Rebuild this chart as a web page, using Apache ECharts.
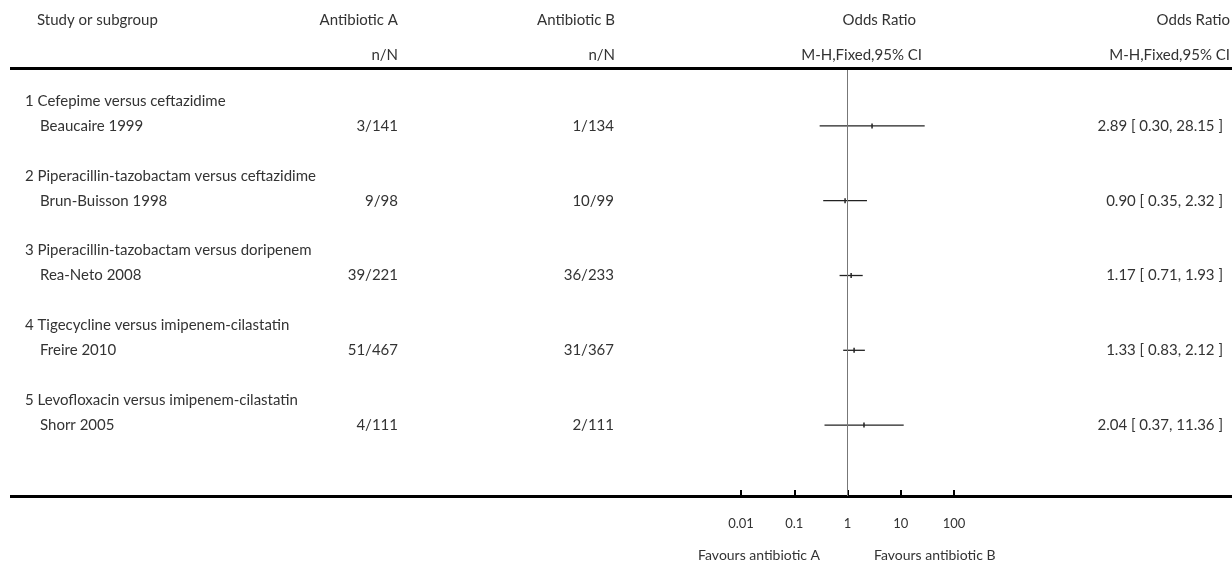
<!DOCTYPE html>
<html>
<head>
<meta charset="utf-8">
<script src="https://cdn.jsdelivr.net/npm/echarts@6/dist/echarts.min.js"></script>
<style>
  html, body { margin: 0; padding: 0; background: #fff; }
  #chart { width: 1232px; height: 562px; }
</style>
</head>
<body>
<div id="chart"></div>
<script>
// Forest plot: odds ratios (M-H, fixed, 95% CI) by comparison subgroup
const groups = [
  '1 Cefepime versus ceftazidime',
  '2 Piperacillin-tazobactam versus ceftazidime',
  '3 Piperacillin-tazobactam versus doripenem',
  '4 Tigecycline versus imipenem-cilastatin',
  '5 Levofloxacin versus imipenem-cilastatin'
];
const studies = ['Beaucaire 1999', 'Brun-Buisson 1998', 'Rea-Neto 2008', 'Freire 2010', 'Shorr 2005'];
const eventsA = [3, 9, 39, 51, 4];
const totalA = [141, 98, 221, 467, 111];
const eventsB = [1, 10, 36, 31, 2];
const totalB = [134, 99, 233, 367, 111];
const oddsRatio = [2.89, 0.90, 1.17, 1.33, 2.04];
const ciLow = [0.30, 0.35, 0.71, 0.83, 0.37];
const ciHigh = [28.15, 2.32, 1.93, 2.12, 11.36];
const axisTicks = [0.01, 0.1, 1, 10, 100];
const favourLabels = ['Favours antibiotic A', 'Favours antibiotic B'];

// Layout (pixels)
const W = 1232, H = 562;
const ROW_PX = 24.93;      // height of one table row
const ROW0_Y = 101;        // centre of the first table row
const AXIS_Y = 496;        // baseline of the odds-ratio axis
const PLOT_LEFT = 741, PLOT_WIDTH = 213;
const FONT = 'Lato, "Open Sans", sans-serif';
const TEXT_COLOR = '#333';
const MAIN_SIZE = 15;

const rowOf = y => (y - ROW0_Y) / ROW_PX;
const fmt2 = v => v.toFixed(2);

// text items: [x, row, text, align, fontSize]
const texts = [];
const addText = (x, row, text, align, size) => texts.push([x, row, text, align, size || MAIN_SIZE]);

// header
addText(37, rowOf(20), 'Study or subgroup', 'left');
addText(398, rowOf(20), 'Antibiotic A', 'right');
addText(398, rowOf(55), 'n/N', 'right');
addText(615, rowOf(20), 'Antibiotic B', 'right');
addText(615, rowOf(55), 'n/N', 'right');
addText(916, rowOf(20), 'Odds Ratio', 'right');
addText(922, rowOf(55), 'M-H,Fixed,95% CI', 'right');
addText(1230, rowOf(20), 'Odds Ratio', 'right');
addText(1230, rowOf(55), 'M-H,Fixed,95% CI', 'right');

// body: each subgroup takes a label row, a study row and a spacer row
groups.forEach((g, i) => {
  const gRow = i * 3, sRow = i * 3 + 1;
  addText(25, gRow, g, 'left');
  addText(40, sRow, studies[i], 'left');
  addText(398, sRow, eventsA[i] + '/' + totalA[i], 'right');
  addText(614, sRow, eventsB[i] + '/' + totalB[i], 'right');
  addText(1223, sRow, fmt2(oddsRatio[i]) + ' [ ' + fmt2(ciLow[i]) + ', ' + fmt2(ciHigh[i]) + ' ]', 'right');
});

// axis footer
addText(820, rowOf(555), favourLabels[0], 'right', 14);
addText(874, rowOf(555), favourLabels[1], 'left', 14);

const ciData = studies.map((s, i) => [ciLow[i], ciHigh[i], oddsRatio[i], i * 3 + 1]);

const option = {
  animation: false,
  backgroundColor: '#fff',
  grid: [
    { left: 0, top: 0, width: W, height: H },
    { left: PLOT_LEFT, top: 0, width: PLOT_WIDTH, height: AXIS_Y }
  ],
  xAxis: [
    { gridIndex: 0, type: 'value', min: 0, max: W, show: false },
    {
      gridIndex: 1, type: 'log', logBase: 10, min: 0.01, max: 100, splitNumber: 4,
      position: 'bottom',
      axisLine: { show: false, onZero: false },
      axisTick: { show: true, inside: true, length: 6, lineStyle: { color: '#000', width: 2 } },
      axisLabel: {
        margin: 21, color: TEXT_COLOR, fontSize: 13, fontFamily: FONT,
        formatter: v => {
          const k = axisTicks.findIndex(t => Math.abs(Math.log10(t) - Math.log10(v)) < 1e-6);
          return k >= 0 ? String(axisTicks[k]) : '';
        }
      },
      splitLine: { show: false }
    }
  ],
  yAxis: [
    { gridIndex: 0, type: 'value', inverse: true, min: rowOf(0), max: rowOf(H), show: false },
    { gridIndex: 1, type: 'value', inverse: true, min: rowOf(0), max: rowOf(AXIS_Y), show: false }
  ],
  series: [
    {
      // table text and rule lines
      type: 'custom', xAxisIndex: 0, yAxisIndex: 0, silent: true,
      data: texts,
      renderItem: (params, api) => {
        const d = texts[params.dataIndex];
        const p = api.coord([d[0], d[1]]);
        return {
          type: 'text', x: p[0], y: p[1],
          style: {
            text: d[2], align: d[3], verticalAlign: 'middle',
            fill: TEXT_COLOR, fontSize: d[4], fontFamily: FONT
          }
        };
      },
      markLine: {
        silent: true, symbol: 'none', label: { show: false },
        lineStyle: { color: '#000', width: 3, type: 'solid' },
        data: [
          [{ coord: [10, rowOf(68)] }, { coord: [W, rowOf(68)] }],
          [{ coord: [10, rowOf(AXIS_Y)] }, { coord: [W, rowOf(AXIS_Y)] }]
        ]
      }
    },
    {
      // confidence intervals and point estimates
      type: 'custom', xAxisIndex: 1, yAxisIndex: 1, silent: true, clip: false,
      data: ciData,
      encode: { x: [0, 1, 2], y: 3 },
      renderItem: (params, api) => {
        const a = api.coord([api.value(0), api.value(3)]);
        const b = api.coord([api.value(1), api.value(3)]);
        const c = api.coord([api.value(2), api.value(3)]);
        return {
          type: 'group',
          children: [
            { type: 'line', shape: { x1: a[0], y1: a[1], x2: b[0], y2: b[1] },
              style: { stroke: '#222', lineWidth: 1.3 } },
            { type: 'rect', shape: { x: c[0] - 0.75, y: c[1] - 2.5, width: 1.5, height: 5 },
              style: { fill: '#222' } }
          ]
        };
      },
      markLine: {
        silent: true, symbol: 'none', label: { show: false },
        lineStyle: { color: '#777', width: 1, type: 'solid' },
        data: [[{ coord: [1, rowOf(70)] }, { coord: [1, rowOf(AXIS_Y)] }]]
      }
    }
  ]
};

const chart = echarts.init(document.getElementById('chart'), null, { renderer: 'canvas' });
chart.setOption(option);
</script>
</body>
</html>
